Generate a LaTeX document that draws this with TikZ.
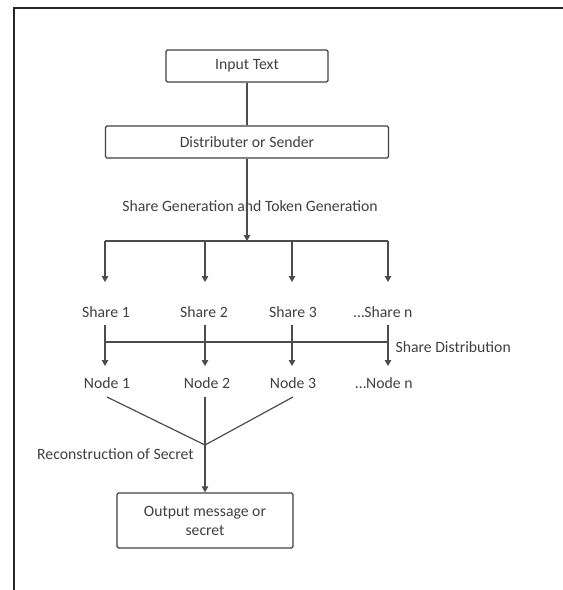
\documentclass[tikz,border=0pt]{standalone}
\usepackage{fontspec}
\setmainfont{Carlito}
\usetikzlibrary{arrows.meta}
\begin{document}
\begin{tikzpicture}[x=1bp,y=-1bp,
  box/.style={draw=black!75,line width=1.3pt,rounded corners=1.5pt,inner sep=0pt,text=black!75,align=center},
  lbl/.style={inner sep=0pt,text=black!75},
  conn/.style={draw=black!70,line width=1.2pt},
  arr/.style={conn,-{Triangle[length=6pt,width=6.5pt]}},
  font=\fontsize{15.8}{19}\selectfont]
\useasboundingbox (0,0) rectangle (563,590);
\draw[line width=1.8pt,black!85] (14,590) -- (14,8) -- (563,8);
\node[box,minimum width=162bp,minimum height=32bp] (in) at (247,66) {Input Text};
\node[box,minimum width=283bp,minimum height=32bp] (dist) at (247,142) {Distributer or Sender};
\node[lbl] (gen) at (250,206) {Share Generation and Token Generation};
\coordinate (split) at (247,241);
\coordinate (b1) at (105,241);
\coordinate (b4) at (388,241);
\node[lbl] (s1) at (106,312) {Share 1};
\node[lbl] (s2) at (204,312) {Share 2};
\node[lbl] (s3) at (293,312) {Share 3};
\node[lbl] (sn) at (383,312) {\dots Share n};
\node[lbl] (n1) at (107,383) {Node 1};
\node[lbl] (n2) at (207,383) {Node 2};
\node[lbl] (n3) at (293,383) {Node 3};
\node[lbl] (nn) at (384,383) {\dots Node n};
\node[lbl,anchor=east] (dl) at (511,347) {Share Distribution};
\node[lbl,anchor=west] (rl) at (37,454) {Reconstruction of Secret};
\node[box,minimum width=176bp,minimum height=55bp] (out) at (205,520.5) {Output message or\\secret};
\coordinate (j) at (205,445);
% connectors
\draw[conn] (in.south) -- (dist.north);
\draw[arr] (dist.south) -- (split);
\draw[conn] (b1) -- (b4);
\draw[arr] (b1) -- (105,282);
\draw[arr] (205,241) -- (205,282);
\draw[arr] (292,241) -- (292,282);
\draw[arr] (b4) -- (388,282);
\draw[arr] (105,325) -- (105,366);
\draw[arr] (205,325) -- (205,366);
\draw[arr] (292,325) -- (292,366);
\draw[arr] (388,325) -- (388,366);
\draw[conn] (105,342) -- (388,342);
\draw[conn] (107,397) -- (j);
\draw[conn] (293,397) -- (j);
\draw[arr] (205,397) -- (out.north);
\end{tikzpicture}
\end{document}
